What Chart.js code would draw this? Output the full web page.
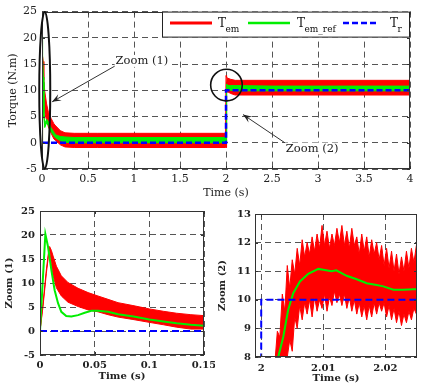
<!DOCTYPE html>
<html><head><meta charset="utf-8">
<script src="https://cdn.jsdelivr.net/npm/chart.js@4/dist/chart.umd.min.js"></script>
<style>
html,body{margin:0;padding:0;background:#fff;}
#wrap{position:relative;width:426px;height:387px;overflow:hidden;background:#fff;}
canvas{position:absolute;}
#clipZ1{position:absolute;left:0;top:200px;width:215px;height:187px;overflow:hidden;}
</style></head><body>
<div id="wrap">
<canvas id="cTop" width="426" height="200" style="left:0;top:0;width:426px;height:200px"></canvas>
<div id="clipZ1"><canvas id="cZ1" width="240" height="187" style="left:0;top:0;width:240px;height:187px"></canvas></div>
<canvas id="cZ2" width="213" height="187" style="left:213px;top:200px;width:213px;height:187px"></canvas>
</div>
<script>
// ---------------- DATA ----------------
// reference load torque T_r
const refTime   = [0, 2, 2, 4];
const refTorque = [0, 0, 10, 10];

// full-range plot (0..4 s): envelopes of T_em (red) and T_em_ref (green)
const topTime    = [0, 0.003, 0.0055, 0.009, 0.013, 0.02, 0.03, 0.05, 0.07, 0.1, 0.13, 0.15, 0.2, 0.25, 0.35, 0.6, 1.0, 1.5, 1.995, 2.0, 2.003, 2.006, 2.01, 2.02, 2.05, 2.1, 2.5, 3.0, 3.5, 4.0];
const topRedHi   = [0, 7, 12, 16.5, 15.5, 12, 9.8, 7.4, 5.8, 4.6, 3.6, 3.2, 2.3, 1.9, 1.8, 1.8, 1.8, 1.8, 1.8, 12.8, 12.7, 12.5, 12.5, 12.3, 12.1, 11.9, 11.9, 11.9, 11.9, 11.9];
const topRedLo   = [0, 0, 0, 13, 11.5, 8.0, 5.8, 4.3, 3.0, 1.8, 0.7, 0.4, -0.4, -0.8, -0.9, -0.9, -0.9, -0.9, -0.9, -0.9, 7.8, 9.0, 9.5, 9.7, 9.4, 9.1, 9.1, 9.1, 9.1, 9.1];
const topGreenHi = [0, 12, 20.3, 16.5, 12.5, 6, 3.6, 4.5, 4.0, 2.8, 2.0, 1.5, 1.2, 1.1, 1.0, 1.0, 1.0, 1.0, 1.0, 1.0, 8.5, 10.8, 11.2, 10.9, 10.9, 10.9, 10.8, 10.8, 10.8, 10.8];
const topGreenLo = [0, 11, 19.5, 15.5, 11.5, 5, 2.9, 3.8, 3.3, 2.1, 1.3, 0.9, 0.4, 0.1, 0, 0, 0, 0, 0, 0, 7.5, 10.0, 10.7, 10.3, 10.0, 9.9, 9.9, 9.9, 9.9, 9.9];

// Zoom (1): start-up transient 0..0.15 s
const z1RedTime  = [0, 0.0027, 0.0058, 0.0082, 0.0088, 0.0104, 0.012, 0.015, 0.0195, 0.0256, 0.0348, 0.044, 0.053, 0.0622, 0.0714, 0.085, 0.1, 0.113, 0.125, 0.138, 0.15];
const z1RedHi    = [0, 5.6, 12.7, 17.2, 17.6, 16.8, 15.6, 13.5, 11.5, 10.1, 8.9, 8.0, 7.3, 6.6, 5.9, 5.3, 4.6, 4.1, 3.7, 3.4, 3.2];
const z1RedLo    = [0, 5.0, 12.0, 16.6, 17.0, 14.0, 11.5, 9.0, 7.3, 6.0, 5.1, 4.4, 4.0, 3.4, 2.9, 2.4, 1.8, 1.3, 0.8, 0.4, 0.4];
const z1GreenTime = [0, 0.0049, 0.0073, 0.0104, 0.0134, 0.0165, 0.0195, 0.024, 0.0287, 0.0348, 0.0409, 0.047, 0.053, 0.0622, 0.0714, 0.0856, 0.1, 0.113, 0.125, 0.138, 0.15];
const z1Green     = [0, 20.2, 17.6, 12.7, 8.5, 5.8, 4.0, 3.1, 3.0, 3.3, 3.8, 4.2, 4.2, 4.0, 3.5, 3.0, 2.4, 2.0, 1.6, 1.3, 1.1];

// Zoom (2): load step at 2 s
const z2RedTime = [2.0022, 2.0026, 2.0030, 2.0034, 2.0038, 2.0042, 2.0046, 2.0050, 2.0054, 2.0058, 2.0062, 2.0066, 2.0070, 2.0074, 2.0078, 2.0082, 2.0086, 2.0090, 2.0094, 2.0098, 2.0102, 2.0106, 2.0110, 2.0114, 2.0118, 2.0122, 2.0126, 2.0130, 2.0134, 2.0138, 2.0142, 2.0146, 2.0150, 2.0154, 2.0158, 2.0162, 2.0166, 2.0170, 2.0174, 2.0178, 2.0182, 2.0186, 2.0190, 2.0194, 2.0198, 2.0202, 2.0206, 2.0210, 2.0214, 2.0218, 2.0222, 2.0226, 2.0230, 2.0234, 2.0238, 2.0242, 2.0246, 2.0250, 2.0254];
const z2RedHi   = [7.8, 8.9, 8.7, 10.2, 9.6, 11.2, 10.4, 11.4, 10.9, 11.8, 11.2, 12.1, 11.5, 12.0, 11.6, 12.2, 11.7, 12.3, 11.8, 12.6, 11.9, 12.4, 11.8, 12.3, 11.9, 12.5, 12.0, 12.6, 11.9, 12.4, 11.8, 12.5, 11.9, 12.2, 11.6, 12.3, 11.7, 12.2, 11.5, 12.1, 11.6, 12.0, 11.4, 11.9, 11.2, 11.8, 11.1, 11.7, 11.0, 11.6, 10.9, 11.5, 11.0, 11.7, 11.1, 11.8, 11.3, 11.9, 11.8];
const z2RedLo   = [7.0, 7.0, 7.0, 7.0, 7.5, 8.0, 8.6, 8.2, 9.4, 9.0, 9.8, 9.3, 9.9, 9.5, 10.0, 9.4, 10.1, 9.6, 10.0, 9.7, 10.2, 9.6, 10.1, 9.8, 10.3, 9.9, 10.2, 9.8, 10.2, 9.7, 10.1, 9.6, 10.0, 9.5, 9.9, 9.4, 9.8, 9.3, 9.8, 9.4, 9.9, 9.5, 9.9, 9.6, 9.9, 9.4, 9.8, 9.3, 9.7, 9.2, 9.6, 9.1, 9.5, 9.2, 9.6, 9.3, 9.7, 9.5, 9.8];
const z2GreenTime = [2.0026, 2.00274, 2.00355, 2.00435, 2.00516, 2.00624, 2.00758, 2.0092, 2.01, 2.01134, 2.0121, 2.01376, 2.01538, 2.017, 2.0186, 2.01968, 2.0213, 2.0229, 2.0245, 2.0253];
const z2Green     = [7.7, 8.0, 8.7, 9.65, 10.23, 10.64, 10.91, 11.08, 11.05, 11.0, 11.03, 10.84, 10.72, 10.58, 10.52, 10.47, 10.35, 10.35, 10.37, 10.37];

// tick values
const topXTicks = [0, 0.5, 1, 1.5, 2, 2.5, 3, 3.5, 4];
const topYTicks = [-5, 0, 5, 10, 15, 20, 25];
const z1XTicks  = [0, 0.05, 0.1, 0.15];
const z1YTicks  = [-5, 0, 5, 10, 15, 20, 25];
const z2XTicks  = [2, 2.01, 2.02];
const z2YTicks  = [8, 9, 10, 11, 12, 13];

// legend text
const legendMain = ['T', 'T', 'T'];
const legendSub  = ['em', 'em_ref', 'r'];
const annotText  = ['Zoom (1)', 'Zoom (2)'];

// ---------------- STYLE / HELPERS ----------------
const RED = '#ff0000', GREEN = '#00ee00', BLUE = '#0000ff', TXT = '#222';
const FAM = '"DejaVu Serif", serif';

function pts(xs, ys) { return xs.map((x, i) => ({x: x, y: ys[i]})); }
function fmt(v) { return String(Math.round(v * 10000) / 10000); }
function band(xs, hi, lo, color, order) {
  return [
    {data: pts(xs, hi), borderColor: color, borderWidth: 1, pointRadius: 0, fill: false, order: order, clip: 0},
    {data: pts(xs, lo), borderColor: color, borderWidth: 1, pointRadius: 0, fill: '-1', backgroundColor: color, order: order, clip: 0}
  ];
}
function line(xs, ys, color, width, dash, order) {
  return {data: pts(xs, ys), borderColor: color, borderWidth: width, borderDash: dash, pointRadius: 0, fill: false, order: order, clip: 0};
}

const boxPlugin = {
  id: 'box',
  afterDatasetsDraw(chart) {
    const {ctx, chartArea: a, scales: {x, y}} = chart;
    ctx.save();
    ctx.strokeStyle = '#333'; ctx.lineWidth = 1;
    ctx.beginPath();
    x.ticks.forEach(t => { const p = Math.round(x.getPixelForValue(t.value)) + 0.5;
      ctx.moveTo(p, a.bottom); ctx.lineTo(p, a.bottom - 3); ctx.moveTo(p, a.top); ctx.lineTo(p, a.top + 3); });
    y.ticks.forEach(t => { const p = Math.round(y.getPixelForValue(t.value)) + 0.5;
      ctx.moveTo(a.left, p); ctx.lineTo(a.left + 3, p); ctx.moveTo(a.right, p); ctx.lineTo(a.right - 3, p); });
    ctx.stroke();
    ctx.strokeRect(Math.round(a.left) + 0.5, Math.round(a.top) + 0.5, Math.round(a.right - a.left) - 1, Math.round(a.bottom - a.top) - 1);
    ctx.restore();
  }
};

function arrow(ctx, x1, y1, x2, y2) {
  ctx.beginPath(); ctx.moveTo(x1, y1); ctx.lineTo(x2, y2); ctx.stroke();
  const ang = Math.atan2(y2 - y1, x2 - x1), len = 9, hw = 3.5;
  ctx.beginPath();
  ctx.moveTo(x2, y2);
  ctx.lineTo(x2 - len * Math.cos(ang) + hw * Math.sin(ang), y2 - len * Math.sin(ang) - hw * Math.cos(ang));
  ctx.lineTo(x2 - 0.6 * len * Math.cos(ang), y2 - 0.6 * len * Math.sin(ang));
  ctx.lineTo(x2 - len * Math.cos(ang) - hw * Math.sin(ang), y2 - len * Math.sin(ang) + hw * Math.cos(ang));
  ctx.closePath(); ctx.fill();
}

const annotPlugin = {
  id: 'annot',
  afterDraw(chart) {
    const {ctx, chartArea: a, scales: {x, y}} = chart;
    ctx.save();
    ctx.strokeStyle = '#111'; ctx.lineWidth = 2;
    ctx.beginPath();
    ctx.ellipse(x.getPixelForValue(0.03), (a.top + a.bottom) / 2, 5.5, (a.bottom - a.top) / 2 - 0.5, 0, 0, Math.PI * 2);
    ctx.stroke();
    ctx.lineWidth = 1.6;
    ctx.beginPath();
    ctx.arc(x.getPixelForValue(2.005), y.getPixelForValue(11.0), 15.8, 0, Math.PI * 2);
    ctx.stroke();
    ctx.font = '11.5px ' + FAM; ctx.textBaseline = 'middle'; ctx.textAlign = 'left';
    const labels = [[annotText[0], 0.80, 15.6], [annotText[1], 2.65, -1.1]];
    labels.forEach(([t, vx, vy]) => {
      const px = x.getPixelForValue(vx), py = y.getPixelForValue(vy), w = ctx.measureText(t).width;
      ctx.fillStyle = '#fff'; ctx.fillRect(px - 1, py - 6, w + 2, 12);
      ctx.fillStyle = TXT; ctx.fillText(t, px, py);
    });
    ctx.strokeStyle = '#333'; ctx.fillStyle = '#222'; ctx.lineWidth = 1;
    arrow(ctx, x.getPixelForValue(0.79), y.getPixelForValue(14.6), x.getPixelForValue(0.11), y.getPixelForValue(7.8));
    arrow(ctx, x.getPixelForValue(2.64), y.getPixelForValue(0.0), x.getPixelForValue(2.185), y.getPixelForValue(5.37));
    ctx.restore();
  }
};

const legendPlugin = {
  id: 'customLegend',
  afterDraw(chart) {
    const {ctx, chartArea: a} = chart;
    const W = 248, H = 26, L = a.right - W, T = a.top;
    const items = [
      {color: RED, width: 3, dash: [], x0: 8, x1: 50, tx: 56},
      {color: GREEN, width: 2.5, dash: [], x0: 86, x1: 128, tx: 135},
      {color: BLUE, width: 2.5, dash: [6, 3], x0: 181, x1: 215, tx: 228}
    ];
    ctx.save();
    ctx.fillStyle = '#fff'; ctx.fillRect(L, T, W, H);
    ctx.strokeStyle = '#222'; ctx.lineWidth = 1; ctx.strokeRect(L + 0.5, T + 0.5, W - 1, H - 1);
    const cy = T + 11.5;
    items.forEach((it, i) => {
      ctx.beginPath(); ctx.strokeStyle = it.color; ctx.lineWidth = it.width; ctx.setLineDash(it.dash);
      ctx.moveTo(L + it.x0, cy); ctx.lineTo(L + it.x1, cy); ctx.stroke(); ctx.setLineDash([]);
      ctx.fillStyle = '#111'; ctx.textBaseline = 'alphabetic'; ctx.textAlign = 'left';
      ctx.font = '12px ' + FAM;
      ctx.fillText(legendMain[i], L + it.tx, T + 15);
      const w = ctx.measureText(legendMain[i]).width;
      ctx.font = '9px ' + FAM;
      ctx.fillText(legendSub[i], L + it.tx + w - 0.5, T + 20);
    });
    ctx.restore();
  }
};

function makeChart(id, datasets, c, plugins) {
  return new Chart(document.getElementById(id), {
    type: 'line',
    data: {datasets: datasets},
    options: {
      responsive: false, animation: false, devicePixelRatio: 1, events: [],
      layout: {padding: c.pad},
      plugins: {legend: {display: false}, tooltip: {enabled: false}},
      scales: {
        x: {
          type: 'linear', min: c.xmin, max: c.xmax,
          afterBuildTicks: s => { s.ticks = c.xticks.map(v => ({value: v})); },
          afterFit: s => { s.height = c.xh; },
          grid: {color: '#555', lineWidth: 1, drawTicks: false},
          border: {display: false, dash: [6, 4]},
          ticks: {padding: c.xtp, maxRotation: 0, autoSkip: false, callback: v => fmt(v), font: c.tickFont, color: TXT},
          title: {display: true, text: 'Time (s)', font: c.titleFont, color: TXT, padding: {top: 0, bottom: c.xtitlePad}}
        },
        y: {
          type: 'linear', min: c.ymin, max: c.ymax,
          afterBuildTicks: s => { s.ticks = c.yticks.map(v => ({value: v})); },
          afterFit: s => { s.width = c.yw; },
          grid: {color: '#555', lineWidth: 1, drawTicks: false},
          border: {display: false, dash: [6, 4]},
          ticks: {padding: c.ytp, autoSkip: false, callback: v => fmt(v), font: c.tickFont, color: TXT},
          title: {display: true, text: c.ytitle, font: c.titleFont, color: TXT, padding: {top: c.ytitlePad, bottom: 0}}
        }
      }
    },
    plugins: plugins
  });
}

// ---------------- CHARTS ----------------
makeChart('cTop', [
  line(refTime, refTorque, BLUE, 2.5, [6, 3], 0),
  ...band(topTime, topGreenHi, topGreenLo, GREEN, 1),
  ...band(topTime, topRedHi, topRedLo, RED, 2)
], {
  pad: {left: 0, top: 7, right: 16, bottom: 0},
  xmin: 0, xmax: 4, xticks: topXTicks, ymin: -5, ymax: 25, yticks: topYTicks,
  xh: 31, yw: 42, xtp: 4, ytp: 5, xtitlePad: 0.4, ytitlePad: 6.4,
  ytitle: 'Torque (N.m)',
  tickFont: {family: FAM, size: 11}, titleFont: {family: FAM, size: 11}
}, [boxPlugin, annotPlugin, legendPlugin]);

makeChart('cZ1', [
  line(refTime, refTorque, BLUE, 2, [7, 4], 0),
  line(z1GreenTime, z1Green, GREEN, 2, [], 1),
  ...band(z1RedTime, z1RedHi, z1RedLo, RED, 2)
], {
  pad: {left: 0, top: 11, right: 36, bottom: 0},
  xmin: 0, xmax: 0.15, xticks: z1XTicks, ymin: -5, ymax: 25, yticks: z1YTicks,
  xh: 32, yw: 40, xtp: 4, ytp: 5, xtitlePad: 4.4, ytitlePad: 3.4,
  ytitle: 'Zoom (1)',
  tickFont: {family: FAM, size: 10, weight: 'bold'}, titleFont: {family: FAM, size: 10, weight: 'bold'}
}, [boxPlugin]);

makeChart('cZ2', [
  line(refTime, refTorque, BLUE, 2, [7, 4], 0),
  line(z2GreenTime, z2Green, GREEN, 2, [], 1),
  ...band(z2RedTime, z2RedHi, z2RedLo, RED, 2)
], {
  pad: {left: 0, top: 14, right: 9, bottom: 0},
  xmin: 1.999, xmax: 2.0251, xticks: z2XTicks, ymin: 8, ymax: 13, yticks: z2YTicks,
  xh: 30, yw: 42, xtp: 5, ytp: 4, xtitlePad: 2.4, ytitlePad: 3.4,
  ytitle: 'Zoom (2)',
  tickFont: {family: FAM, size: 10, weight: 'bold'}, titleFont: {family: FAM, size: 10, weight: 'bold'}
}, [boxPlugin]);
</script>
</body></html>
